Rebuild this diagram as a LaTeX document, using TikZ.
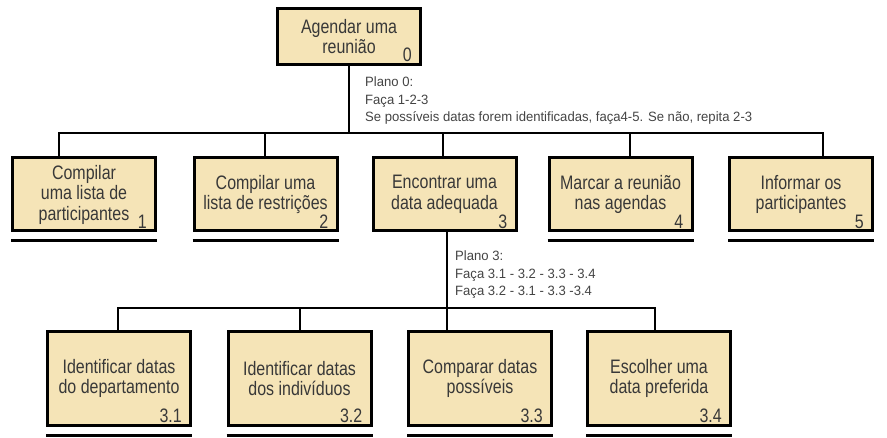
\documentclass[tikz,border=0pt]{standalone}
\usepackage{fontspec}
\setmainfont{Liberation Sans}[FakeStretch=0.82]
\newfontfamily\planfont{Liberation Sans}[FakeStretch=0.97]
\definecolor{taskfill}{HTML}{F5E4B7}
\definecolor{textgray}{HTML}{383838}
\definecolor{plangray}{HTML}{444444}
\begin{document}
\begin{tikzpicture}[x=1pt,y=-1pt,
  task/.style={draw=black, line width=3pt, fill=taskfill, minimum width=143pt,
    text=textgray, align=center, inner sep=0pt,
    font=\fontsize{19.5}{20.5}\selectfont},
  toprow/.style={task, minimum height=73pt},
  botrow/.style={task, minimum height=94pt},
  num/.style={anchor=base east, inner sep=0pt, text=textgray,
    font=\fontsize{19.5}{20.5}\selectfont},
  link/.style={line width=2.5pt, draw=black},
  uline/.style={line width=3pt, draw=black},
  plan/.style={anchor=north west, align=left, inner sep=0pt, text=plangray,
    font=\planfont\fontsize{13.5}{17.5}\selectfont}]
\useasboundingbox (0,0) rectangle (887,438);

% boxes
\node[task, minimum height=56pt] (n0) at (349,36.5) {Agendar uma\\reunião};
\node[toprow] (n1) at (84,194.5) {Compilar\\uma lista de\\participantes};
\node[toprow] (n2) at (265.5,194.5) {Compilar uma\\lista de restrições};
\node[toprow] (n3) at (444.5,194.5) {Encontrar uma\\data adequada};
\node[toprow] (n4) at (620.5,194.5) {Marcar a reunião\\nas agendas};
\node[toprow] (n5) at (801,194.5) {Informar os\\participantes};
\node[botrow] (m1) at (119,378.5) {Identificar datas\\do departamento};
\node[botrow] (m2) at (299.5,378.5) {Identificar datas\\dos indivíduos};
\node[botrow] (m3) at (480,378.5) {Comparar datas\\possíveis};
\node[botrow] (m4) at (659,378.5) {Escolher uma\\data preferida};

% numbers
\node[num] (l0) at ([shift={(-10,-4)}]n0.south east) {0};
\node[num] (l1) at ([shift={(-10,-4)}]n1.south east) {1};
\node[num] (l2) at ([shift={(-10,-4)}]n2.south east) {2};
\node[num] (l3) at ([shift={(-10,-4)}]n3.south east) {3};
\node[num] (l4) at ([shift={(-10,-4)}]n4.south east) {4};
\node[num] (l5) at ([shift={(-10,-4)}]n5.south east) {5};
\node[num] (l31) at ([shift={(-10,-4)}]m1.south east) {3.1};
\node[num] (l32) at ([shift={(-10,-4)}]m2.south east) {3.2};
\node[num] (l33) at ([shift={(-10,-4)}]m3.south east) {3.3};
\node[num] (l34) at ([shift={(-10,-4)}]m4.south east) {3.4};

% plans
\node[plan] (p0) at (365,77) {Plano 0:\\Faça 1-2-3\\Se possíveis datas forem identificadas, faça4-5. Se não, repita 2-3};
\node[plan] (p3) at (455,251) {Plano 3:\\Faça 3.1 - 3.2 - 3.3 - 3.4\\Faça 3.2 - 3.1 - 3.3 -3.4};

% junction coordinates
\coordinate (j0) at (349,133);
\coordinate (k1) at (59,133);
\coordinate (k2) at (265,133);
\coordinate (k3) at (443,133);
\coordinate (k4) at (630,133);
\coordinate (k5) at (823,133);
\coordinate (q1) at (118,308);
\coordinate (q2) at (300,308);
\coordinate (q3) at (447,308);
\coordinate (q4) at (655,308);

% connectors level 1
\draw[link] (n0.south) -- (j0);
\draw[link] (k1 |- n1.north) -- (k1) -- (k5) -- (k5 |- n5.north);
\draw[link] (k2) -- (k2 |- n2.north);
\draw[link] (k3) -- (k3 |- n3.north);
\draw[link] (k4) -- (k4 |- n4.north);

% connectors level 2
\draw[link] (q3 |- n3.south) -- (q3 |- m3.north);
\draw[link] (q1 |- m1.north) -- (q1) -- (q4) -- (q4 |- m4.north);
\draw[link] (q2) -- (q2 |- m2.north);

% underlines
\foreach \b in {n1,n2,n4,n5}
  \draw[uline] ([yshift=-8pt]\b.south west) -- ([yshift=-8pt]\b.south east);
\foreach \b in {m1,m2,m3,m4}
  \draw[uline] ([yshift=-8.5pt]\b.south west) -- ([yshift=-8.5pt]\b.south east);
\end{tikzpicture}
\end{document}
